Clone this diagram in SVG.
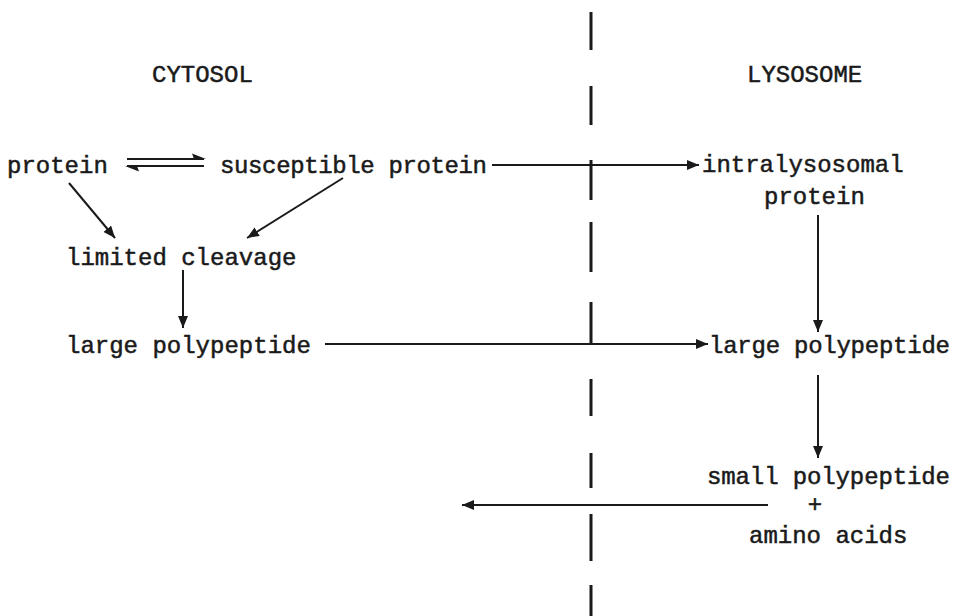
<svg xmlns="http://www.w3.org/2000/svg" width="954" height="616" viewBox="0 0 954 616">
<style>
text { font-family: "Liberation Mono", "Courier New", monospace; font-size: 24px; fill: #1a1a1a; stroke: #1a1a1a; stroke-width: 0.5; }
.ln { stroke: #1a1a1a; stroke-width: 2; fill: none; }
.bd { stroke: #1a1a1a; stroke-width: 3; fill: none; }
.hd { fill: #1a1a1a; stroke: none; }
</style>
<defs>
<marker id="ah" viewBox="0 0 12 10" refX="12" refY="5" markerWidth="12" markerHeight="10" markerUnits="userSpaceOnUse" orient="auto">
<path d="M0,0 L12,5 L0,10 z" fill="#1a1a1a"/>
</marker>
</defs>
<rect width="954" height="616" fill="#ffffff"/>
<g id="boundary">
<path class="bd" d="M591,12 V50 M591,86 V125 M591,160 V200 M591,222 V272 M591,302 V344 M591,379 V416 M591,453 V488 M591,514 V561 M591,585 V616"/>
</g>
<g id="label-cytosol"><text x="152" y="82">CYTOSOL</text></g>
<g id="label-lysosome"><text x="747" y="82">LYSOSOME</text></g>
<g id="node-protein"><text x="7" y="173">protein</text></g>
<g id="node-susceptible"><text x="220" y="173" textLength="267" lengthAdjust="spacing">susceptible protein</text></g>
<g id="node-intralysosomal"><text x="702" y="172">intralysosomal</text><text x="764" y="204">protein</text></g>
<g id="node-limited"><text x="66" y="265">limited cleavage</text></g>
<g id="node-large-left"><text x="66" y="353">large polypeptide</text></g>
<g id="node-large-right"><text x="709" y="353" textLength="241" lengthAdjust="spacing">large polypeptide</text></g>
<g id="node-small"><text x="707" y="484" textLength="243" lengthAdjust="spacing">small polypeptide</text><text x="815" y="512" text-anchor="middle">+</text><text x="749" y="543">amino acids</text></g>
<g id="connectors">
<path class="ln" d="M127,159 H204"/>
<path class="hd" d="M206,159 L192,153.5 L194,159 z"/>
<path class="ln" d="M127,166 H204"/>
<path class="hd" d="M125,166 L139,171.5 L137,166 z"/>
<path class="ln" d="M69,183 L115,238" marker-end="url(#ah)"/>
<path class="ln" d="M343,178 L247,238" marker-end="url(#ah)"/>
<path class="ln" d="M183,270 V328" marker-end="url(#ah)"/>
<path class="ln" d="M492,165 H699" marker-end="url(#ah)"/>
<path class="ln" d="M818,215 V332" marker-end="url(#ah)"/>
<path class="ln" d="M325,344 H708" marker-end="url(#ah)"/>
<path class="ln" d="M818,375 V458" marker-end="url(#ah)"/>
<path class="ln" d="M768,505 H462" marker-end="url(#ah)"/>
</g>
</svg>
